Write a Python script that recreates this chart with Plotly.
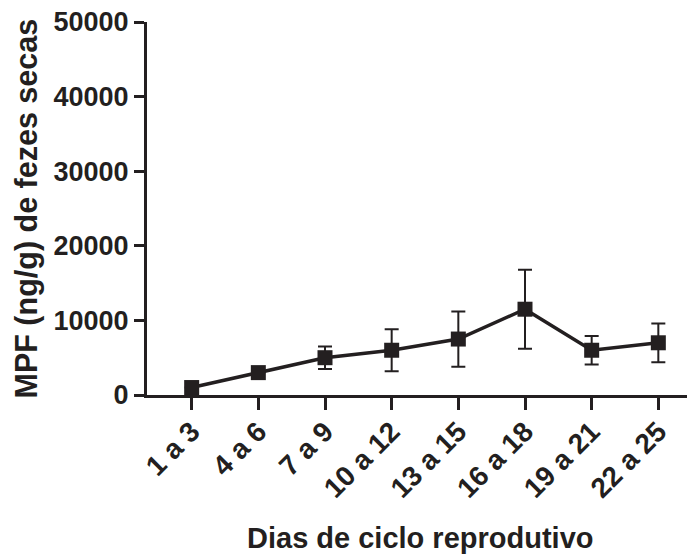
import plotly.graph_objects as go

categories = ["1 a 3", "4 a 6", "7 a 9", "10 a 12", "13 a 15", "16 a 18", "19 a 21", "22 a 25"]
mpf_mean = [1000, 3000, 5000, 6000, 7500, 11500, 6000, 7000]
mpf_err = [0, 0, 1500, 2800, 3700, 5300, 1900, 2600]
y_ticks = [0, 10000, 20000, 30000, 40000, 50000]

ink = "#231f20"
font_family = "Liberation Sans, Arial, sans-serif"

fig = go.Figure()
fig.add_trace(go.Scatter(
    x=list(range(len(categories))),
    y=mpf_mean,
    mode="lines+markers",
    line=dict(color=ink, width=3.5),
    marker=dict(symbol="square", size=15, color=ink),
    error_y=dict(type="data", array=mpf_err, visible=True, color=ink, thickness=2, width=7),
    cliponaxis=False,
))

fig.update_layout(
    width=687, height=548,
    margin=dict(l=139, r=2, t=14, b=161),
    paper_bgcolor="white", plot_bgcolor="white",
    showlegend=False,
    font=dict(family=font_family, color=ink),
    xaxis=dict(
        range=[-0.67, 7.52],
        automargin=False,
        tickmode="array",
        tickvals=list(range(len(categories))),
        ticktext=[f"<b>{c}</b>" for c in categories],
        tickangle=-45,
        ticklabeloverflow="allow",
        ticklabelstandoff=-6,
        ticks="outside", ticklen=12, tickwidth=3, tickcolor=ink,
        showline=True, linewidth=3, linecolor=ink,
        showgrid=False, zeroline=False,
        tickfont=dict(size=28, family=font_family, color=ink),
    ),
    yaxis=dict(
        range=[0, 50000],
        automargin=False,
        tickmode="array",
        tickvals=y_ticks,
        ticktext=[f"<b>{v}</b>" for v in y_ticks],
        ticklabeloverflow="allow",
        ticks="outside", ticklen=10, tickwidth=3, tickcolor=ink,
        showline=True, linewidth=3, linecolor=ink,
        showgrid=False, zeroline=False,
        tickfont=dict(size=27, family=font_family, color=ink),
    ),
    annotations=[
        dict(text="<b>Dias de ciclo reprodutivo</b>", xref="paper", yref="paper",
             x=0.5, y=0, yshift=-143, xanchor="center", yanchor="middle",
             showarrow=False, font=dict(size=29, family=font_family, color=ink)),
        dict(text="<b>MPF (ng/g) de fezes secas</b>", xref="paper", yref="paper",
             x=0, xshift=-121, y=0.5, yshift=0, xanchor="center", yanchor="middle", textangle=-90,
             showarrow=False, font=dict(size=30.5, family=font_family, color=ink)),
    ],
)

fig.write_html("out.html")
